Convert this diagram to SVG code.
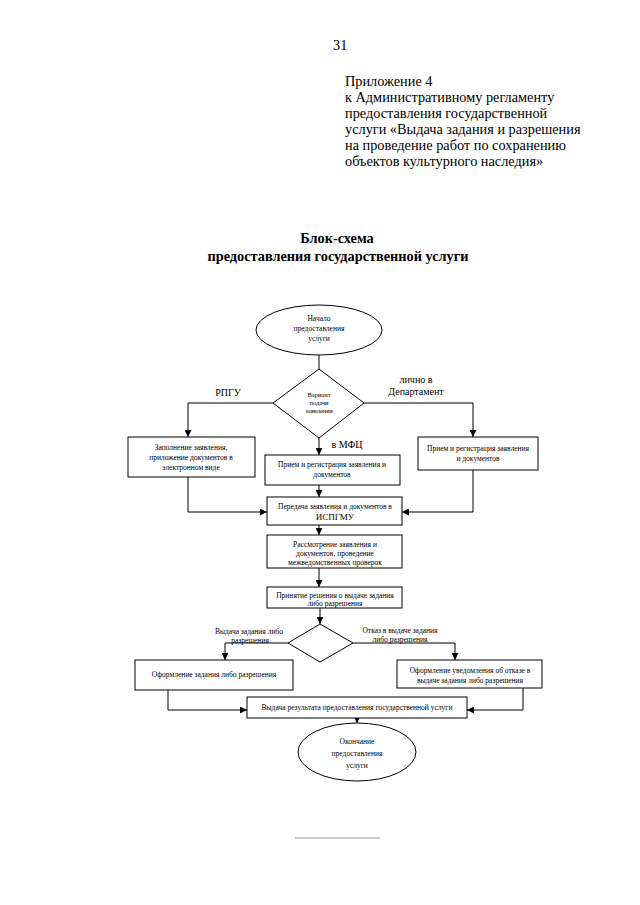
<svg xmlns="http://www.w3.org/2000/svg" width="640" height="905" viewBox="0 0 640 905">
<defs>
<marker id="ah" viewBox="0 0 10 10" refX="10" refY="5" markerWidth="7" markerHeight="7" markerUnits="userSpaceOnUse" orient="auto">
<path d="M0,0 L10,5 L0,10 z" fill="#000"/>
</marker>
<style>
.t{font-family:"Liberation Serif","Times New Roman",serif;fill:#000}
.h{font-size:14.3px}
.ti{font-size:14.3px;font-weight:bold;text-anchor:middle}
.s{font-size:7.5px;text-anchor:middle}
.l{font-size:10px;text-anchor:middle}
.shape{fill:#fff;stroke:#000;stroke-width:1}
.c{fill:none;stroke:#000;stroke-width:1}
</style>
</defs>
<rect width="640" height="905" fill="#fff"/>
<g id="header">
<text class="t h" x="333" y="50">31</text>
<text class="t h" x="345" y="86">Приложение 4</text>
<text class="t h" x="345" y="102">к Административному регламенту</text>
<text class="t h" x="345" y="118">предоставления государственной</text>
<text class="t h" x="345" y="134">услуги «Выдача задания и разрешения</text>
<text class="t h" x="345" y="150">на проведение работ по сохранению</text>
<text class="t h" x="345" y="166">объектов культурного наследия»</text>
</g>
<g id="title">
<text class="t ti" x="337" y="243">Блок-схема</text>
<text class="t ti" x="338" y="261">предоставления государственной услуги</text>
</g>
<g id="connectors">
<line class="c" x1="319" y1="355" x2="319" y2="369"/>
<polyline class="c" points="273,403 188,403 188,437" marker-end="url(#ah)"/>
<polyline class="c" points="364,403 473,403 473,437" marker-end="url(#ah)"/>
<line class="c" x1="319" y1="438" x2="319" y2="455" marker-end="url(#ah)"/>
<polyline class="c" points="188,477 188,512 267,512" marker-end="url(#ah)"/>
<polyline class="c" points="473,470 473,512 402,512" marker-end="url(#ah)"/>
<line class="c" x1="319" y1="485" x2="319" y2="497" marker-end="url(#ah)"/>
<line class="c" x1="319" y1="525" x2="319" y2="535" marker-end="url(#ah)"/>
<line class="c" x1="319" y1="568" x2="319" y2="587" marker-end="url(#ah)"/>
<line class="c" x1="320" y1="608" x2="320" y2="624" marker-end="url(#ah)"/>
<polyline class="c" points="288,643 225,643 225,660" marker-end="url(#ah)"/>
<polyline class="c" points="353,643 455,643 455,660" marker-end="url(#ah)"/>
<polyline class="c" points="168,690 168,710 247,710" marker-end="url(#ah)"/>
<polyline class="c" points="523,688 523,710 467,710" marker-end="url(#ah)"/>
<line class="c" x1="357" y1="718" x2="357" y2="723" marker-end="url(#ah)"/>
<text class="t l" x="228" y="396">РПГУ</text>
<text class="t l" x="416" y="383">лично в</text>
<text class="t l" x="416" y="395">Департамент</text>
<text class="t l" x="347" y="448">в МФЦ</text>
<text class="t s" x="249" y="634">Выдача задания либо</text>
<text class="t s" x="250" y="643">разрешения</text>
<text class="t s" x="400" y="633">Отказ в выдаче задания</text>
<text class="t s" x="400" y="642">либо разрешения</text>
</g>
<g id="start">
<ellipse class="shape" cx="319" cy="330" rx="63" ry="25"/>
<text class="t s" x="319" y="321">Начало</text>
<text class="t s" x="319" y="331">предоставления</text>
<text class="t s" x="319" y="341">услуги</text>
</g>
<g id="variant">
<polygon class="shape" points="319,369 364,403 319,438 273,403"/>
<text class="t s" x="319" y="397" style="font-size:6.5px">Вариант</text>
<text class="t s" x="319" y="405" style="font-size:6.5px">подачи</text>
<text class="t s" x="319" y="413" style="font-size:6.5px">заявления</text>
</g>
<g id="rpgu">
<rect class="shape" x="128" y="437" width="127" height="40"/>
<text class="t s" x="191" y="450">Заполнение заявления,</text>
<text class="t s" x="191" y="460">приложение документов в</text>
<text class="t s" x="191" y="470">электронном виде</text>
</g>
<g id="mfc">
<rect class="shape" x="265" y="455" width="135" height="30"/>
<text class="t s" x="332" y="467">Прием и регистрация заявления и</text>
<text class="t s" x="332" y="477">документов</text>
</g>
<g id="dept">
<rect class="shape" x="418" y="437" width="120" height="33"/>
<text class="t s" x="478" y="451">Прием и регистрация заявления</text>
<text class="t s" x="478" y="461">и документов</text>
</g>
<g id="transfer">
<rect class="shape" x="267" y="497" width="135" height="28"/>
<text class="t s" x="335" y="509">Передача заявления и документов в</text>
<text class="t s" x="335" y="520" style="font-size:9px">ИСПГМУ</text>
</g>
<g id="review">
<rect class="shape" x="267" y="535" width="135" height="33"/>
<text class="t s" x="335" y="547">Рассмотрение заявления и</text>
<text class="t s" x="335" y="556">документов, проведение</text>
<text class="t s" x="335" y="565">межведомственных проверок</text>
</g>
<g id="decision">
<rect class="shape" x="267" y="587" width="135" height="21"/>
<text class="t s" x="335" y="598">Принятие решения о выдаче задания</text>
<text class="t s" x="335" y="606">либо разрешения</text>
</g>
<g id="choice">
<polygon class="shape" points="320,624 353,643 320,662 288,643"/>
</g>
<g id="issue">
<rect class="shape" x="135" y="660" width="158" height="30"/>
<text class="t s" x="214" y="677">Оформление задания либо разрешения</text>
</g>
<g id="refusal">
<rect class="shape" x="397" y="660" width="145" height="28"/>
<text class="t s" x="470" y="673">Оформление уведомления об отказе в</text>
<text class="t s" x="470" y="683">выдаче задания либо разрешения</text>
</g>
<g id="result">
<rect class="shape" x="247" y="697" width="220" height="21"/>
<text class="t s" x="357" y="710">Выдача результата предоставления государственной услуги</text>
</g>
<g id="end">
<ellipse class="shape" cx="357" cy="752" rx="59" ry="29"/>
<text class="t s" x="357" y="744">Окончание</text>
<text class="t s" x="357" y="756">предоставления</text>
<text class="t s" x="357" y="768">услуги</text>
</g>
<line x1="295" y1="838" x2="380" y2="838" stroke="#999" stroke-width="1"/>
</svg>
